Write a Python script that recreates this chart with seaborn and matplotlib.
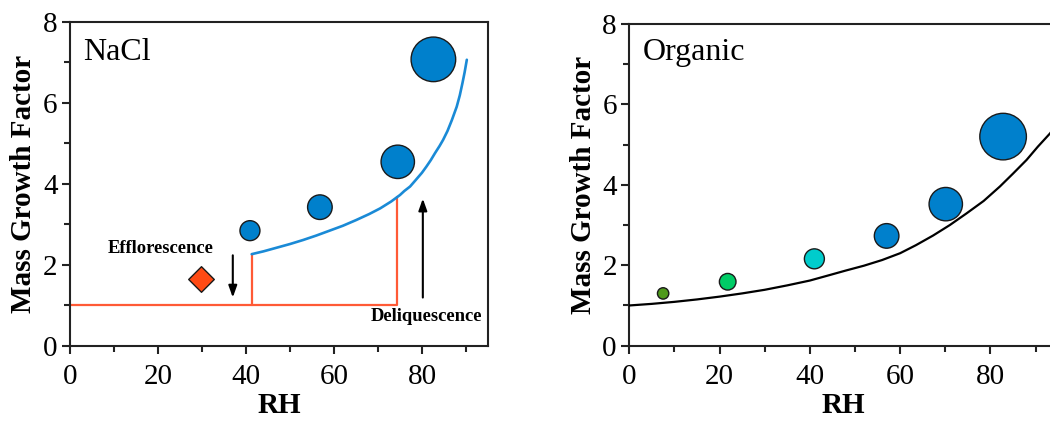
import matplotlib
matplotlib.use("Agg")
import matplotlib.pyplot as plt
import pandas as pd
import seaborn as sns

# NaCl panel: measured points (RH, growth factor, marker area)
nacl_rh = [40.9, 56.8, 74.5, 82.6]
nacl_gf = [2.84, 3.42, 4.54, 7.07]
nacl_size = [207, 314, 578, 1031]

# NaCl theory curve
nacl_curve_rh = [41.3, 44.0, 47.0, 50.0, 53.0, 56.0, 59.0, 62.0, 65.0, 68.0, 70.5, 73.0,
                 75.0, 76.0, 77.3, 78.5, 80.0, 81.0, 82.0, 83.0, 84.0, 84.8, 85.8, 86.8,
                 87.9, 88.6, 89.2, 89.7, 90.2]
nacl_curve_gf = [2.26, 2.33, 2.42, 2.51, 2.61, 2.72, 2.84, 2.96, 3.10, 3.25, 3.39, 3.56,
                 3.72, 3.82, 3.93, 4.08, 4.27, 4.42, 4.58, 4.76, 4.93, 5.08, 5.30, 5.57,
                 5.90, 6.18, 6.48, 6.75, 7.06]

# dry-state step lines
dry_rh = [0, 74.4, 74.4]
dry_gf = [1.0, 1.0, 3.68]
efflor_rh = [41.3, 41.3]
efflor_gf = [1.0, 2.26]

# efflorescence point
diamond_rh = [29.8]
diamond_gf = [1.65]

# Organic panel
org_rh = [7.5, 21.8, 41.0, 57.0, 70.1, 82.8]
org_gf = [1.30, 1.59, 2.16, 2.73, 3.52, 5.20]
org_size = [67, 143, 207, 314, 578, 1125]
org_color = ["#4f9a1c", "#00cc66", "#00cccc", "#0080cc", "#0080cc", "#0080cc"]

org_curve_rh = [0, 5, 10, 15, 20, 25, 30, 35, 40, 44.5, 48, 52, 56, 60, 63.5, 67.3,
                71, 74.7, 78.5, 82.1, 85, 88, 90.5, 93.2, 95]
org_curve_gf = [1.00, 1.04, 1.09, 1.15, 1.22, 1.30, 1.39, 1.50, 1.62, 1.76, 1.87, 1.99,
                2.13, 2.30, 2.50, 2.74, 3.00, 3.29, 3.60, 3.96, 4.28, 4.62, 4.95, 5.28, 5.55]

x_ticks = [0, 20, 40, 60, 80]
y_ticks = [0, 2, 4, 6, 8]

sns.set_style("ticks")
plt.rcParams["font.family"] = ["Liberation Serif", "DejaVu Serif"]
plt.rcParams["axes.linewidth"] = 1.5
plt.rcParams["text.color"] = "black"
plt.rcParams["axes.labelcolor"] = "black"

fig = plt.figure(figsize=(10.5, 4.21), dpi=100)
ax1 = fig.add_axes([0.0667, 0.1789, 0.398, 0.7696])
ax2 = fig.add_axes([0.5993, 0.1789, 0.4085, 0.7641])


def style_axis(ax):
    ax.set_xlim(0, 95)
    ax.set_ylim(0, 8)
    ax.set_xticks(x_ticks)
    ax.set_xticks([10, 30, 50, 70, 90], minor=True)
    ax.set_yticks(y_ticks)
    ax.set_yticks([1, 3, 5, 7], minor=True)
    ax.tick_params(which="major", direction="out", length=6, width=1.5,
                   labelsize=21, colors="#222222", labelcolor="black", pad=3)
    ax.tick_params(axis="x", which="major", pad=7)
    ax.tick_params(which="minor", direction="out", length=4, width=1.5, colors="#222222")
    for s in ax.spines.values():
        s.set_visible(True)
        s.set_color("#222222")
    ax.set_xlabel("RH", fontsize=21, fontweight="bold", labelpad=1.5)
    ax.set_ylabel("Mass Growth Factor", fontsize=21, fontweight="bold", labelpad=4)


# --- NaCl ---
ax1.plot(dry_rh, dry_gf, color="#ff5a36", lw=1.6, zorder=2)
ax1.plot(efflor_rh, efflor_gf, color="#ff5a36", lw=1.6, zorder=2)
sns.lineplot(x=nacl_curve_rh, y=nacl_curve_gf, ax=ax1, color="#1a8ad6", lw=1.9, zorder=3)
nacl_df = pd.DataFrame({"rh": nacl_rh, "gf": nacl_gf, "s": nacl_size})
sns.scatterplot(data=nacl_df, x="rh", y="gf", size="s",
                sizes=(min(nacl_size), max(nacl_size)), color="#0080cc",
                edgecolor="#1a1a1a", linewidth=1.0, legend=False, ax=ax1, zorder=4)
ax1.scatter(diamond_rh, diamond_gf, marker="D", s=170, color="#ff4a14",
            edgecolor="#1a1a1a", linewidth=1.0, zorder=4)
ax1.annotate("", xy=(37, 1.12), xytext=(37, 2.3),
             arrowprops=dict(arrowstyle="-|>,head_length=0.7,head_width=0.25",
                             color="black", lw=1.5))
ax1.annotate("", xy=(80.2, 3.7), xytext=(80.2, 1.12),
             arrowprops=dict(arrowstyle="-|>,head_length=0.7,head_width=0.25",
                             color="black", lw=1.5))
ax1.text(20.5, 2.41, "Efflorescence", fontsize=13.4, fontweight="bold",
         ha="center", va="center")
ax1.text(81.1, 0.73, "Deliquescence", fontsize=13.4, fontweight="bold",
         ha="center", va="center")
ax1.text(3, 7.25, "NaCl", fontsize=23, ha="left", va="center")
style_axis(ax1)

# --- Organic ---
sns.lineplot(x=org_curve_rh, y=org_curve_gf, ax=ax2, color="black", lw=1.6, zorder=3)
org_df = pd.DataFrame({"rh": org_rh, "gf": org_gf, "s": org_size, "c": org_color})
sns.scatterplot(data=org_df, x="rh", y="gf", size="s", hue="c",
                palette={c: c for c in org_color},
                sizes=(min(org_size), max(org_size)),
                edgecolor="#1a1a1a", linewidth=1.0, legend=False, ax=ax2, zorder=4)
ax2.text(3, 7.3, "Organic", fontsize=23, ha="left", va="center")
style_axis(ax2)

fig.savefig("out.png", dpi=100)
